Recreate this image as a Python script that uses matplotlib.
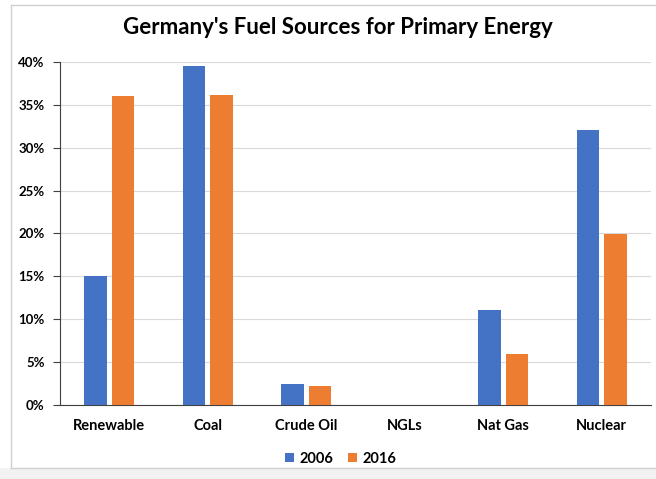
import matplotlib.pyplot as plt
import numpy as np
from matplotlib.lines import Line2D
from matplotlib.patches import Rectangle

# fuel shares, in percent of primary energy
fuels = ["Renewable", "Coal", "Crude Oil", "NGLs", "Nat Gas", "Nuclear"]
share_2006 = [15.0, 39.5, 2.5, 0.0, 11.1, 32.1]
share_2016 = [36.0, 36.2, 2.2, 0.0, 6.0, 19.9]

plt.rcParams['font.family'] = ['Lato', 'DejaVu Sans']

fig = plt.figure(figsize=(6.56, 4.79), dpi=100)
ax = fig.add_axes([60 / 656, 1 - 405 / 479, 591 / 656, 343 / 479])

x = np.arange(len(fuels))
w = 0.225
ax.bar(x - 0.14, share_2006, w, color="#4472C4", label="2006", zorder=3)
ax.bar(x + 0.14, share_2016, w, color="#ED7D31", label="2016", zorder=3)

ax.set_xlim(-0.5, len(fuels) - 0.5)
ax.set_ylim(0, 40)
ax.set_yticks(np.arange(0, 41, 5))
ax.set_yticklabels([f"{v}%" for v in range(0, 41, 5)], fontsize=9.5, fontweight="bold")
ax.set_xticks(x)
ax.set_xticklabels(fuels, fontsize=10.5, fontweight="bold")
ax.tick_params(axis="x", length=0, pad=10)
ax.tick_params(axis="y", length=5, width=0.8, color="#404040", pad=6)
ax.grid(axis="y", color="#d9d9d9", linewidth=0.8, zorder=0)

for side in ["top", "right"]:
    ax.spines[side].set_visible(False)
ax.spines["left"].set_color("#404040")
ax.spines["bottom"].set_color("#404040")

fig.suptitle("Germany's Fuel Sources for Primary Energy", fontsize=16,
             fontweight="bold", x=0.515, y=0.965)

fig.legend(loc="lower center", bbox_to_anchor=(0.52, 0.0), ncol=2,
           frameon=False, handlelength=0.6, handleheight=0.6,
           columnspacing=1.0, handletextpad=0.4,
           prop={"size": 10.5, "weight": "bold"})

# light strip under the chart and its left/top/bottom border
fig.patches.append(Rectangle((0, 0), 1, 11 / 479, transform=fig.transFigure,
                             facecolor="#f2f2f2", edgecolor="none"))
fx0, fy0, fy1 = 11 / 656, 11 / 479, 474 / 479
for xs, ys in [([fx0, fx0], [fy0, fy1]), ([fx0, 1], [fy0, fy0]), ([fx0, 1], [fy1, fy1])]:
    fig.add_artist(Line2D(xs, ys, transform=fig.transFigure,
                          color="#d0d0d0", linewidth=1))

fig.savefig("out.png", dpi=100)
